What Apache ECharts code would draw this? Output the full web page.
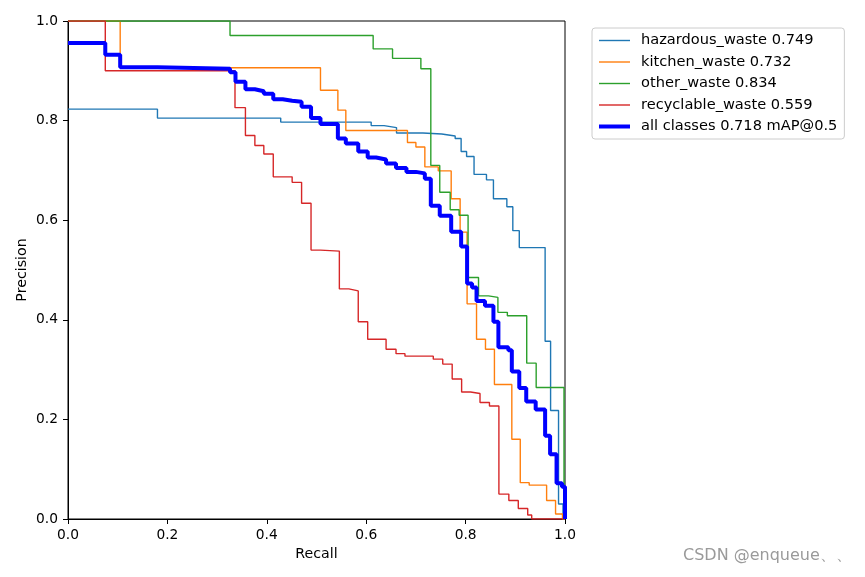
<!DOCTYPE html>
<html>
<head>
<meta charset="utf-8">
<script src="https://cdn.jsdelivr.net/npm/echarts@6/dist/echarts.min.js"></script>
<style>
html,body{margin:0;padding:0;background:#fff;}
#chart{width:865px;height:577px;}
</style>
</head>
<body>
<div id="chart"></div>
<script>
// Series names (legend)
const seriesNames = [
  'hazardous_waste 0.749',
  'kitchen_waste 0.732',
  'other_waste 0.834',
  'recyclable_waste 0.559',
  'all classes 0.718 mAP@0.5'
];
const xTicks = [0, 0.2, 0.4, 0.6, 0.8, 1.0];
const yTicks = [0, 0.2, 0.4, 0.6, 0.8, 1.0];

// hazardous_waste: recall where each horizontal run starts, and its precision
const hazRecall    = [0, 0.180, 0.428, 0.610, 0.636, 0.661, 0.714, 0.752, 0.779, 0.791, 0.802, 0.817, 0.842, 0.856, 0.883, 0.895, 0.908, 0.960, 0.971, 0.987, 0.996, 1.0];
const hazPrecision = [0.823, 0.805, 0.797, 0.790, 0.786, 0.775, 0.773, 0.769, 0.764, 0.738, 0.728, 0.692, 0.681, 0.643, 0.627, 0.579, 0.545, 0.357, 0.218, 0.030, 0.0, 0.0];

// kitchen_waste
const kitRecall    = [0, 0.105, 0.508, 0.543, 0.559, 0.683, 0.700, 0.718, 0.745, 0.771, 0.789, 0.803, 0.822, 0.840, 0.858, 0.893, 0.910, 0.928, 0.963, 0.981, 0.995, 1.0];
const kitPrecision = [1.0, 0.906, 0.861, 0.821, 0.780, 0.756, 0.747, 0.707, 0.699, 0.643, 0.576, 0.432, 0.361, 0.341, 0.270, 0.160, 0.073, 0.068, 0.037, 0.010, 0.0, 0.0];

// other_waste
const othRecall    = [0, 0.326, 0.614, 0.653, 0.710, 0.730, 0.748, 0.769, 0.787, 0.805, 0.826, 0.846, 0.865, 0.884, 0.923, 0.942, 0.998, 1.0];
const othPrecision = [1.0, 0.971, 0.944, 0.925, 0.904, 0.710, 0.656, 0.621, 0.610, 0.485, 0.448, 0.445, 0.415, 0.408, 0.313, 0.264, 0.0, 0.0];

// recyclable_waste
const recRecall    = [0, 0.075, 0.336, 0.357, 0.376, 0.394, 0.413, 0.451, 0.470, 0.489, 0.508, 0.546, 0.565, 0.584, 0.603, 0.640, 0.660, 0.678, 0.735, 0.754, 0.773, 0.792, 0.810, 0.829, 0.848, 0.867, 0.887, 0.906, 0.925, 0.933, 1.0];
const recPrecision = [1.0, 0.900, 0.826, 0.770, 0.750, 0.733, 0.687, 0.676, 0.634, 0.540, 0.538, 0.462, 0.458, 0.396, 0.361, 0.341, 0.332, 0.327, 0.321, 0.311, 0.281, 0.255, 0.252, 0.234, 0.227, 0.050, 0.037, 0.021, 0.008, 0.0, 0.0];

// all classes
const allRecall    = [0, 0.075, 0.105, 0.180, 0.326, 0.337, 0.357, 0.376, 0.394, 0.413, 0.432, 0.451, 0.470, 0.489, 0.508, 0.543, 0.559, 0.584, 0.603, 0.620, 0.640, 0.660, 0.681, 0.700, 0.718, 0.730, 0.748, 0.771, 0.791, 0.803, 0.813, 0.822, 0.839, 0.856, 0.866, 0.886, 0.893, 0.908, 0.922, 0.941, 0.960, 0.970, 0.983, 0.994, 1.0];
const allPrecision = [0.956, 0.932, 0.907, 0.904, 0.897, 0.878, 0.863, 0.859, 0.854, 0.843, 0.840, 0.838, 0.828, 0.805, 0.793, 0.764, 0.754, 0.738, 0.726, 0.722, 0.714, 0.705, 0.697, 0.694, 0.683, 0.629, 0.609, 0.577, 0.547, 0.473, 0.465, 0.438, 0.428, 0.396, 0.345, 0.339, 0.296, 0.263, 0.236, 0.220, 0.167, 0.130, 0.072, 0.065, 0.0];

const colors = ['#1f77b4', '#ff7f0e', '#2ca02c', '#d62728', '#0000ff'];
const widths = [1.4, 1.4, 1.4, 1.4, 4];
const recalls = [hazRecall, kitRecall, othRecall, recRecall, allRecall];
const precisions = [hazPrecision, kitPrecision, othPrecision, recPrecision, allPrecision];

function zip(r, p) { return r.map((x, i) => [x, p[i]]); }

const FONT = 'DejaVu Sans';
const chart = echarts.init(document.getElementById('chart'), null, {renderer: 'canvas'});

const series = seriesNames.map((name, i) => ({
  name: name,
  type: 'line',
  step: 'end',
  symbol: 'none',
  showSymbol: false,
  data: zip(recalls[i], precisions[i]),
  lineStyle: {color: colors[i], width: widths[i]},
  itemStyle: {color: colors[i]},
  emphasis: {disabled: true},
  z: 2 + i,
  animation: false
}));

chart.setOption({
  animation: false,
  backgroundColor: '#ffffff',
  textStyle: {fontFamily: FONT},
  grid: {
    left: 68, top: 21, width: 497, height: 498,
    show: true, borderColor: '#000', borderWidth: 1, backgroundColor: 'transparent'
  },
  legend: {
    orient: 'vertical',
    left: 592, top: 28,
    itemWidth: 31, itemHeight: 15, itemGap: 6.5,
    padding: [5, 7, 5, 5],
    borderColor: '#cccccc', borderWidth: 1, borderRadius: 3,
    backgroundColor: '#ffffff',
    itemStyle: {opacity: 0},
    textStyle: {fontFamily: FONT, fontSize: 14.6, color: '#000', padding: [0, 0, 0, 6]},
    data: seriesNames.map((n, i) => ({
      name: n,
      lineStyle: {width: widths[i], color: colors[i]}
    }))
  },
  xAxis: {
    type: 'value', min: 0, max: 1, interval: 0.2,
    name: 'Recall', nameLocation: 'middle', nameGap: 28,
    nameTextStyle: {fontFamily: FONT, fontSize: 14.2, color: '#000'},
    axisLine: {show: true, onZero: false, lineStyle: {color: '#000', width: 1}},
    axisTick: {show: true, inside: false, length: 5, lineStyle: {color: '#000'}},
    axisLabel: {fontFamily: FONT, fontSize: 13.8, color: '#000', margin: 9,
      formatter: v => xTicks.includes(+v.toFixed(1)) ? v.toFixed(1) : ''},
    splitLine: {show: false}
  },
  yAxis: {
    type: 'value', min: 0, max: 1, interval: 0.2,
    name: 'Precision', nameLocation: 'middle', nameGap: 39, nameRotate: 90,
    nameMoveOverlap: false,
    nameTextStyle: {fontFamily: FONT, fontSize: 14.2, color: '#000'},
    axisLine: {show: true, onZero: false, lineStyle: {color: '#000', width: 1}},
    axisTick: {show: true, inside: false, length: 5, lineStyle: {color: '#000'}},
    axisLabel: {fontFamily: FONT, fontSize: 13.8, color: '#000', margin: 10,
      formatter: v => yTicks.includes(+v.toFixed(1)) ? v.toFixed(1) : ''},
    splitLine: {show: false}
  },
  graphic: [{
    type: 'text', left: 683, top: 548,
    style: {text: 'CSDN @enqueue、、', fill: '#9a9a9a', font: '16px "DejaVu Sans", sans-serif'}
  }],
  series: series
});
</script>
</body>
</html>
